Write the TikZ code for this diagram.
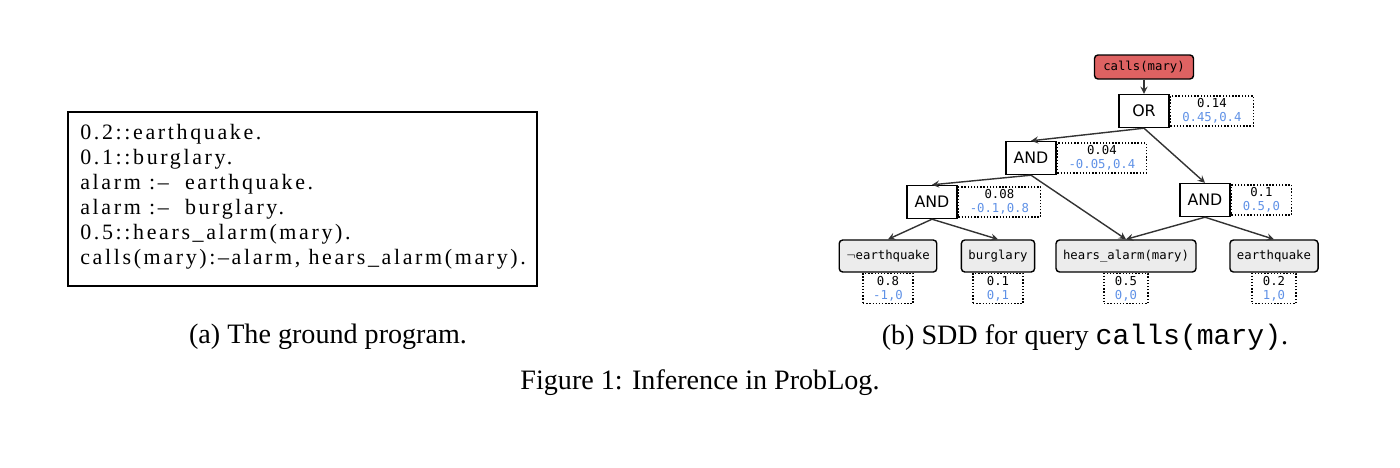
\documentclass[tikz,border=0pt]{standalone}
\usepackage{fontspec}
\setmainfont{Liberation Serif}
\newfontfamily\progfont[LetterSpace=12]{Liberation Serif}
\newfontfamily\capmono{Liberation Mono}
\setmonofont{DejaVu Sans Mono}
\setsansfont{DejaVu Sans}
\usepackage{amssymb}
\usetikzlibrary{positioning}
\definecolor{qred}{RGB}{222,98,98}
\definecolor{vblue}{RGB}{95,145,230}

\begin{document}
\begin{tikzpicture}[x=0.02cm,y=-0.02cm,
  gate/.style={draw,thick,fill=white,font=\sffamily\small,minimum width=1.0cm,minimum height=0.66cm,inner sep=1pt},
  leaf/.style={draw,thick,rounded corners=2pt,fill=gray!15,font=\ttfamily\scriptsize,minimum height=0.64cm,inner xsep=4pt},
  query/.style={draw,thick,rounded corners=2pt,fill=qred,font=\ttfamily\scriptsize,minimum height=0.48cm,inner xsep=5pt},
  val/.style={draw,thick,densely dotted,font=\ttfamily\scriptsize,align=center,inner sep=1pt,minimum height=0.6cm},
  edge/.style={->,>=stealth,thick,black!80},
  caption/.style={font=\fontsize{16}{18}\selectfont}]
  \useasboundingbox (0,0) rectangle (1400,467);

  %left
  \node[draw,thick,minimum width=9.38cm,minimum height=3.48cm] (prog) at (302.5,199) {};
  \node[anchor=north west,align=left,font=\progfont\fontsize{12.5}{14.2}\selectfont,inner sep=0pt] (code) at (80,124)
    {0.2::earthquake.\\0.1::burglary.\\alarm :\textendash\ \ earthquake.\\alarm :\textendash\ \ burglary.\\0.5::hears\_alarm(mary).\\calls(mary):\textendash alarm, hears\_alarm(mary).};
  \node[caption] (capa) at (328,337) {(a) The ground program.};

  %right
  \node[query] (calls) at (1144,67) {calls(mary)};
  \node[gate] (or) at (1144,111) {OR};
  \node[gate] (and1) at (1031,158) {AND};
  \node[gate] (and2) at (932,202) {AND};
  \node[gate] (and3) at (1205,200) {AND};
  \node[leaf] (neq) at (888,256) {$\neg$earthquake};
  \node[leaf] (burg) at (998,256) {burglary};
  \node[leaf] (hears) at (1126,256) {hears\_alarm(mary)};
  \node[leaf] (eq) at (1274,256) {earthquake};

  \node[val,right=0pt of or,minimum width=1.66cm] (vor) {0.14\\\textcolor{vblue}{0.45,0.4}};
  \node[val,right=0pt of and1,minimum width=1.78cm] (vand1) {0.04\\\textcolor{vblue}{-0.05,0.4}};
  \node[val,right=0pt of and2,minimum width=1.64cm] (vand2) {0.08\\\textcolor{vblue}{-0.1,0.8}};
  \node[val,right=0pt of and3,minimum width=1.2cm] (vand3) {0.1\\\textcolor{vblue}{0.5,0}};
  \node[val,below=0pt of neq,minimum width=1.0cm] (vneq) {0.8\\\textcolor{vblue}{-1,0}};
  \node[val,below=0pt of burg,minimum width=1.0cm] (vburg) {0.1\\\textcolor{vblue}{0,1}};
  \node[val,below=0pt of hears,minimum width=0.88cm] (vhears) {0.5\\\textcolor{vblue}{0,0}};
  \node[val,below=0pt of eq,minimum width=0.88cm] (veq) {0.2\\\textcolor{vblue}{1,0}};

  \draw[edge] (calls) -- (or);
  \draw[edge] (or.south) -- (and1.north);
  \draw[edge] (or.south) -- (and3.north);
  \draw[edge] (and1.south) -- (and2.north);
  \draw[edge] (and1.south) -- (hears.north);
  \draw[edge] (and2.south) -- (neq.north);
  \draw[edge] (and2.south) -- (burg.north);
  \draw[edge] (and3.south) -- (hears.north);
  \draw[edge] (and3.south) -- (eq.north);

  \node[caption] (capb) at (1085,337) {(b) SDD for query {\capmono calls(mary)}.};
  \node[caption] (fig) at (700,383) {Figure 1: Inference in ProbLog.};
\end{tikzpicture}
\end{document}
